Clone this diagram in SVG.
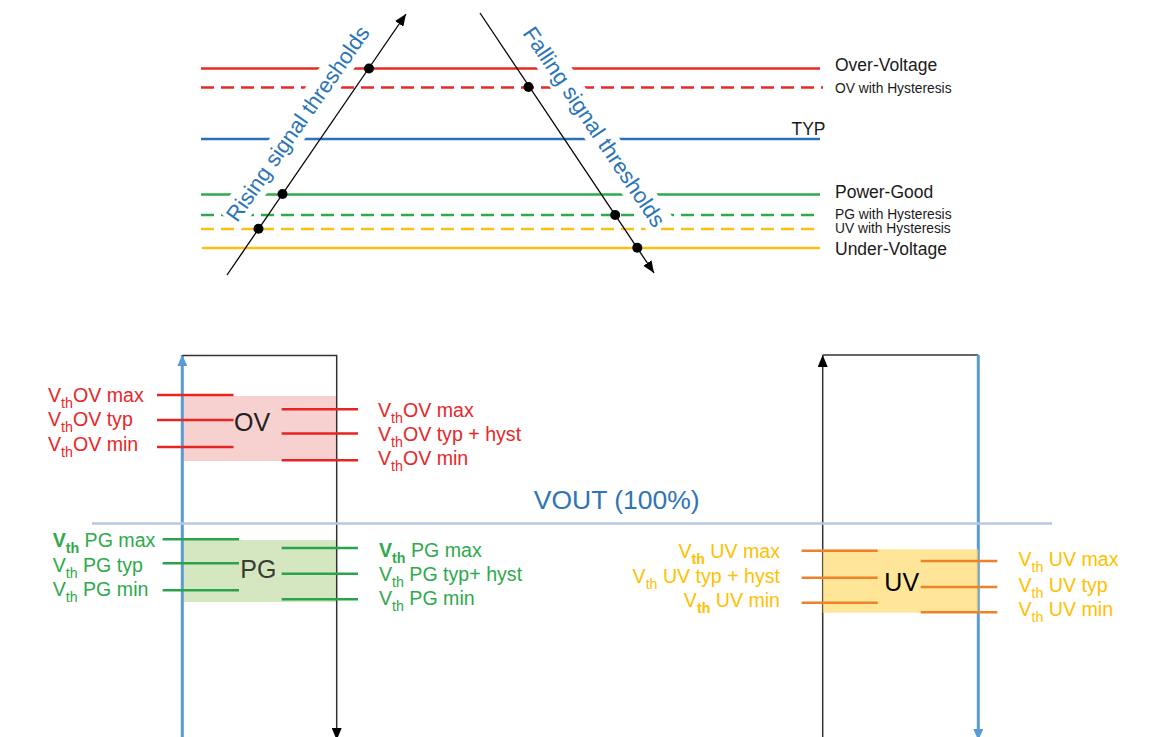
<svg xmlns="http://www.w3.org/2000/svg" width="1168" height="737" viewBox="0 0 1168 737">
<defs>
<style>
text{font-family:"Liberation Sans",Arial,sans-serif}
.red{stroke:#e52b24;stroke-width:2.5;fill:none}
.blu{stroke:#2a72b8;stroke-width:2.5;fill:none}
.grn{stroke:#2eaa4c;stroke-width:2.5;fill:none}
.yel{stroke:#fdc010;stroke-width:2.5;fill:none}
.dash{stroke-dasharray:13 7}
.leg{font-size:17.5px;fill:#1a1a1a}
.legs{font-size:13.8px;fill:#1a1a1a}
.rot{font-size:22px;fill:#2a74b8}
.dot{fill:#000}
.thin{stroke:#000;stroke-width:1.3;fill:none}
.frame{stroke:#333;stroke-width:1.5;fill:none}
.vb{stroke:#5b9bd5;stroke-width:3;fill:none}
.lr{font-size:19.6px;fill:#e8272a}
.lg{font-size:19.6px;fill:#2eaa4c}
.ly{font-size:19.6px;fill:#ffc000}
.sub{font-size:14.2px}
.tr{stroke:#e52521;stroke-width:2.5}
.tg{stroke:#2aa34a;stroke-width:2.5}
.to{stroke:#ee8229;stroke-width:2.5}
.big{font-size:25px;fill:#231f20}
</style>
<marker id="ab" markerUnits="userSpaceOnUse" markerWidth="12" markerHeight="10" refX="12" refY="5" orient="auto"><path d="M0,0 L12,5 L0,10 z" fill="#000"/></marker>
<marker id="abb" markerUnits="userSpaceOnUse" markerWidth="11" markerHeight="10" refX="11" refY="5" orient="auto"><path d="M0,0 L11,5 L0,10 z" fill="#5b9bd5"/></marker>
</defs>
<rect width="1168" height="737" fill="#fff"/>

<g id="threshold-lines">
<line class="red" x1="201" y1="68.5" x2="820" y2="68.5"/>
<line class="red dash" x1="201" y1="87.5" x2="823" y2="87.5"/>
<line class="blu" x1="201" y1="139" x2="820" y2="139"/>
<line class="grn" x1="201" y1="194.5" x2="820" y2="194.5"/>
<line class="grn dash" x1="201" y1="215" x2="820" y2="215"/>
<line class="yel dash" x1="201" y1="229" x2="820" y2="229"/>
<line class="yel" x1="202" y1="248" x2="820" y2="248"/>
</g>

<g id="rising-label" transform="translate(304,128) rotate(-55)">
<rect x="-118" y="-22" width="236" height="29" fill="#fff"/>
<text class="rot" x="0" y="0" text-anchor="middle">Rising signal thresholds</text>
</g>
<g id="falling-label" transform="translate(588,131) rotate(56)">
<rect x="-120" y="-22" width="240" height="29" fill="#fff"/>
<text class="rot" x="0" y="0" text-anchor="middle">Falling signal thresholds</text>
</g>

<g id="legend">
<text class="leg" x="835" y="70.5">Over-Voltage</text>
<text class="legs" x="835" y="92.7">OV with Hysteresis</text>
<text class="leg" x="825.5" y="135" text-anchor="end">TYP</text>
<text class="leg" x="835" y="198.3">Power-Good</text>
<text class="legs" x="835" y="219.3">PG with Hysteresis</text>
<text class="legs" x="835" y="233.3">UV with Hysteresis</text>
<text class="leg" x="835" y="255">Under-Voltage</text>
</g>

<g id="signal-arrows">
<line class="thin" x1="227" y1="275" x2="406" y2="14" marker-end="url(#ab)"/>
<line class="thin" x1="480" y1="13" x2="654" y2="273" marker-end="url(#ab)"/>
</g>
<g id="crossing-points">
<circle class="dot" cx="369" cy="68.5" r="5"/>
<circle class="dot" cx="282.5" cy="194" r="5"/>
<circle class="dot" cx="258.5" cy="228.8" r="5"/>
<circle class="dot" cx="528.5" cy="87" r="5"/>
<circle class="dot" cx="615.2" cy="215" r="5"/>
<circle class="dot" cx="637.3" cy="247.8" r="5"/>
</g>

<g id="ov-box">
<rect x="182" y="396" width="155" height="65" fill="#f7d0d0"/>
</g>
<g id="pg-box">
<rect x="182" y="540" width="155" height="62" fill="#d5e7c0"/>
</g>

<g id="connectors">
<line class="vb" x1="182.3" y1="740" x2="182.3" y2="355" marker-end="url(#abb)"/>
<polyline class="frame" points="182.3,355.5 336.7,355.5 336.7,740" marker-end="url(#ab)"/>
<line class="frame" x1="822.7" y1="740" x2="822.7" y2="355" marker-end="url(#ab)"/>
<polyline class="frame" points="822.7,355 978.3,355"/>
<line class="vb" x1="978.3" y1="355" x2="978.3" y2="740" marker-end="url(#abb)"/>
<line x1="92" y1="523.5" x2="1052" y2="523.5" stroke="#b6c7e4" stroke-width="2.5"/>
</g>

<g id="uv-box">
<rect x="822.7" y="549.3" width="155.6" height="63.4" fill="#ffd966" fill-opacity="0.68"/>
</g>

<text x="616.7" y="509.3" text-anchor="middle" font-size="26.5" fill="#2e75b6" id="vout">VOUT (100%)</text>

<g id="ov">
<line class="tr" x1="157" y1="395" x2="233.5" y2="395"/>
<line class="tr" x1="157" y1="420" x2="233.5" y2="420"/>
<line class="tr" x1="157" y1="447" x2="233.5" y2="447"/>
<line class="tr" x1="281.7" y1="409.3" x2="358" y2="409.3"/>
<line class="tr" x1="281.7" y1="433.5" x2="358" y2="433.5"/>
<line class="tr" x1="281.7" y1="460.3" x2="358" y2="460.3"/>
<text class="big" x="252" y="431" text-anchor="middle">OV</text>
<text class="lr" x="48" y="402.3">V<tspan class="sub" dy="6">th</tspan><tspan dy="-6">OV max</tspan></text>
<text class="lr" x="48" y="426">V<tspan class="sub" dy="6">th</tspan><tspan dy="-6">OV typ</tspan></text>
<text class="lr" x="48" y="450.5">V<tspan class="sub" dy="6">th</tspan><tspan dy="-6">OV min</tspan></text>
<text class="lr" x="378" y="416.7">V<tspan class="sub" dy="6">th</tspan><tspan dy="-6">OV max</tspan></text>
<text class="lr" x="378" y="441">V<tspan class="sub" dy="6">th</tspan><tspan dy="-6">OV typ + hyst</tspan></text>
<text class="lr" x="378" y="465">V<tspan class="sub" dy="6">th</tspan><tspan dy="-6">OV min</tspan></text>
</g>

<g id="pg">
<line class="tg" x1="162.7" y1="539.3" x2="239" y2="539.3"/>
<line class="tg" x1="162.7" y1="563.3" x2="239" y2="563.3"/>
<line class="tg" x1="162.7" y1="590.3" x2="239" y2="590.3"/>
<line class="tg" x1="281.7" y1="548" x2="358" y2="548"/>
<line class="tg" x1="281.7" y1="573.7" x2="358" y2="573.7"/>
<line class="tg" x1="281.7" y1="599.3" x2="358" y2="599.3"/>
<text class="big" x="258.3" y="577.5" text-anchor="middle" style="fill:#3a3d30">PG</text>
<text class="lg" x="52.7" y="546.7"><tspan font-weight="bold">V</tspan><tspan class="sub" dy="6" font-weight="bold">th</tspan><tspan dy="-6"> PG max</tspan></text>
<text class="lg" x="52.7" y="571.7">V<tspan class="sub" dy="6">th</tspan><tspan dy="-6"> PG typ</tspan></text>
<text class="lg" x="52.7" y="596">V<tspan class="sub" dy="6">th</tspan><tspan dy="-6"> PG min</tspan></text>
<text class="lg" x="379" y="556.7"><tspan font-weight="bold">V</tspan><tspan class="sub" dy="6" font-weight="bold">th</tspan><tspan dy="-6"> PG max</tspan></text>
<text class="lg" x="379" y="581">V<tspan class="sub" dy="6">th</tspan><tspan dy="-6"> PG typ+ hyst</tspan></text>
<text class="lg" x="379" y="604.5">V<tspan class="sub" dy="6">th</tspan><tspan dy="-6"> PG min</tspan></text>
</g>

<g id="uv">
<line class="to" x1="801.7" y1="550.7" x2="877.7" y2="550.7"/>
<line class="to" x1="801.7" y1="577.7" x2="877.7" y2="577.7"/>
<line class="to" x1="801.7" y1="602.7" x2="877.7" y2="602.7"/>
<line class="to" x1="920.7" y1="561" x2="997.3" y2="561"/>
<line class="to" x1="920.7" y1="587" x2="997.3" y2="587"/>
<line class="to" x1="920.7" y1="612.3" x2="997.3" y2="612.3"/>
<text class="big" x="901.7" y="590.7" text-anchor="middle" style="fill:#000">UV</text>
<text class="ly" x="780" y="558.3" text-anchor="end">V<tspan class="sub" dy="6" font-weight="bold">th</tspan><tspan dy="-6"> UV max</tspan></text>
<text class="ly" x="780" y="583.3" text-anchor="end">V<tspan class="sub" dy="6">th</tspan><tspan dy="-6"> UV typ + hyst</tspan></text>
<text class="ly" x="780" y="607.3" text-anchor="end">V<tspan class="sub" dy="6" font-weight="bold">th</tspan><tspan dy="-6"> UV min</tspan></text>
<text class="ly" x="1018.5" y="566">V<tspan class="sub" dy="6">th</tspan><tspan dy="-6"> UV max</tspan></text>
<text class="ly" x="1018.5" y="591.7">V<tspan class="sub" dy="6">th</tspan><tspan dy="-6"> UV typ</tspan></text>
<text class="ly" x="1018.5" y="616">V<tspan class="sub" dy="6">th</tspan><tspan dy="-6"> UV min</tspan></text>
</g>
</svg>
